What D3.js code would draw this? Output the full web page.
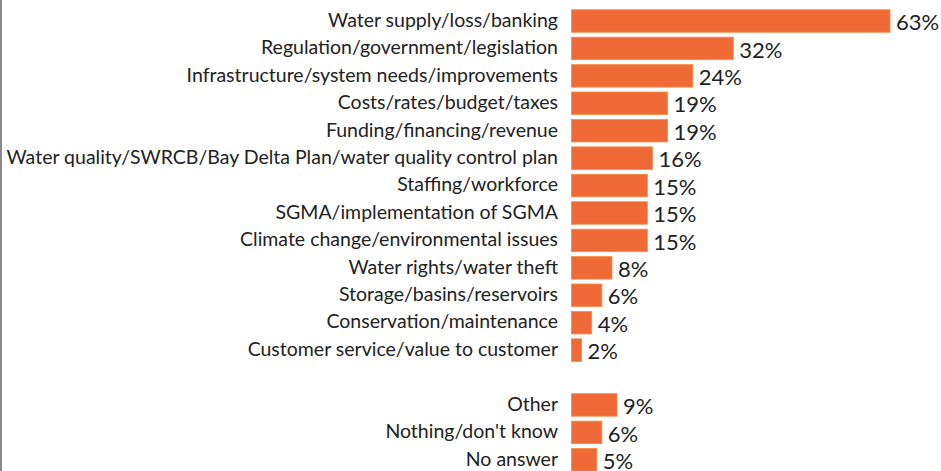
<!DOCTYPE html>
<html>
<head>
<meta charset="utf-8">
<script src="https://cdn.jsdelivr.net/npm/d3@7"></script>
<style>
  html, body { margin: 0; padding: 0; background: #fff; }
  svg { display: block; }
</style>
</head>
<body>
<svg id="chart" width="941" height="471"></svg>
<script>
// Issue categories, top group then the "other" group separated by a blank row
const categories = [
  "Water supply/loss/banking",
  "Regulation/government/legislation",
  "Infrastructure/system needs/improvements",
  "Costs/rates/budget/taxes",
  "Funding/financing/revenue",
  "Water quality/SWRCB/Bay Delta Plan/water quality control plan",
  "Staffing/workforce",
  "SGMA/implementation of SGMA",
  "Climate change/environmental issues",
  "Water rights/water theft",
  "Storage/basins/reservoirs",
  "Conservation/maintenance",
  "Customer service/value to customer",
  "",
  "Other",
  "Nothing/don't know",
  "No answer"
];
const values = [63, 32, 24, 19, 19, 16, 15, 15, 15, 8, 6, 4, 2, null, 9, 6, 5];

const svg = d3.select("#chart");

const slots = categories.map((c, i) => "r" + i);
const y = d3.scaleBand()
  .domain(slots)
  .range([7.3, 473.5])
  .paddingInner(0.18)
  .paddingOuter(0.09);

const x = d3.scaleLinear().domain([0, 63]).range([571.5, 890]);

// left border line
svg.append("line")
  .attr("x1", 1).attr("x2", 1)
  .attr("y1", 0).attr("y2", 471)
  .attr("stroke", "#8a8a8a").attr("stroke-width", 2);

const rows = categories.map((c, i) => ({ label: c, value: values[i], key: slots[i] }))
  .filter(d => d.value !== null);

const g = svg.append("g");

g.selectAll("rect.bar")
  .data(rows)
  .join("rect")
  .attr("class", "bar")
  .attr("x", x(0))
  .attr("y", d => y(d.key))
  .attr("width", d => x(d.value) - x(0))
  .attr("height", y.bandwidth())
  .attr("fill", "#EF6A36")
  .attr("stroke", "#F38A45")
  .attr("stroke-width", 0.8);

g.selectAll("text.cat")
  .data(rows)
  .join("text")
  .attr("class", "cat")
  .attr("x", 558)
  .attr("y", d => y(d.key) + y.bandwidth() / 2 - 1)
  .attr("dy", "0.35em")
  .attr("text-anchor", "end")
  .attr("font-family", "Lato, 'Open Sans', sans-serif")
  .attr("font-size", 19.5)
  .attr("fill", "#222")
  .text(d => d.label);

g.selectAll("text.val")
  .data(rows)
  .join("text")
  .attr("class", "val")
  .attr("x", d => x(d.value) + 6)
  .attr("y", d => y(d.key) + y.bandwidth() / 2 + 1.5)
  .attr("dy", "0.35em")
  .attr("font-family", "Lato, 'Open Sans', sans-serif")
  .attr("font-size", 22)
  .attr("fill", "#222")
  .text(d => d.value + "%");
</script>
</body>
</html>
